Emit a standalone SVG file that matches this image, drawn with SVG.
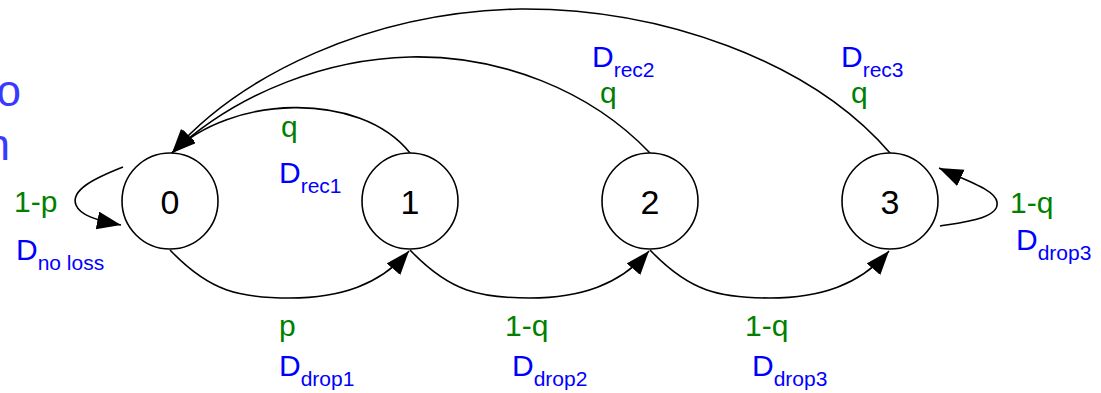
<svg xmlns="http://www.w3.org/2000/svg" width="1101" height="393" viewBox="0 0 1101 393">
<defs>
<marker id="arr" markerUnits="userSpaceOnUse" markerWidth="26" markerHeight="20" refX="24" refY="9" orient="auto">
<path d="M0,0 L24,9 L0,18 z" fill="#000"/>
</marker>
<style>
.node circle{fill:#fff;stroke:#000;stroke-width:1.6}
.node text{font-family:"Liberation Sans",Arial,sans-serif;font-size:34px;fill:#000;text-anchor:middle}
.edge{fill:none;stroke:#000;stroke-width:1.6}
.arrow{marker-end:url(#arr)}
.g{font-family:"Liberation Sans",Arial,sans-serif;font-size:30px;fill:#008000}
.b{font-family:"Liberation Sans",Arial,sans-serif;font-size:30px;fill:#0000ff}
.sub{font-size:21px}
.t{font-family:"Liberation Sans",Arial,sans-serif;font-size:44px;fill:#3a3aff;text-anchor:end}
</style>
</defs>
<rect width="1101" height="393" fill="#fff"/>
<text class="t" x="21" y="106">o</text>
<text class="t" x="10" y="160">n</text>
<g id="connectors">
<path class="edge arrow" d="M170,250 C210,292 240,298 290,298 C340,298 380,285 409,251"/>
<path class="edge arrow" d="M410,250 C450,292 480,298 530,298 C580,298 620,285 649,251"/>
<path class="edge arrow" d="M650,250 C690,292 720,298 770,298 C820,298 860,285 889,251"/>
<path class="edge arrow" d="M410,153 C360,90 230,95 172,153"/>
<path class="edge arrow" d="M650,153 C590,90 500,55 410,57 C330,59 240,90 172,153"/>
<path class="edge arrow" d="M890,153 C810,60 660,8 520,9 C370,12 240,75 172,153"/>
<path class="edge arrow" d="M123,167 C95,178 70,190 76,205 C80,215 95,220 121,225"/>
<path class="edge arrow" d="M940,226 C965,222 1000,218 997,202 C995,190 970,182 939,168"/>
</g>
<g id="node0" class="node"><circle cx="170" cy="201" r="48"/><text x="170" y="214">0</text></g>
<g id="node1" class="node"><circle cx="410" cy="201" r="48"/><text x="410" y="214">1</text></g>
<g id="node2" class="node"><circle cx="650" cy="201" r="48"/><text x="650" y="214">2</text></g>
<g id="node3" class="node"><circle cx="890" cy="201" r="48"/><text x="890" y="214">3</text></g>
<g id="labels">
<text class="g" x="14" y="212">1-p</text>
<text class="b" x="16" y="260">D<tspan class="sub" dy="10">no loss</tspan></text>
<text class="g" x="281" y="137">q</text>
<text class="b" x="279" y="183">D<tspan class="sub" dy="10">rec1</tspan></text>
<text class="g" x="279" y="336">p</text>
<text class="b" x="279" y="376">D<tspan class="sub" dy="10">drop1</tspan></text>
<text class="g" x="505" y="336">1-q</text>
<text class="b" x="512" y="376">D<tspan class="sub" dy="10">drop2</tspan></text>
<text class="g" x="745" y="336">1-q</text>
<text class="b" x="752" y="376">D<tspan class="sub" dy="10">drop3</tspan></text>
<text class="b" x="592" y="67">D<tspan class="sub" dy="10">rec2</tspan></text>
<text class="g" x="600" y="103">q</text>
<text class="b" x="841" y="67">D<tspan class="sub" dy="10">rec3</tspan></text>
<text class="g" x="851" y="103">q</text>
<text class="g" x="1010" y="213">1-q</text>
<text class="b" x="1016" y="250">D<tspan class="sub" dy="10">drop3</tspan></text>
</g>
</svg>
